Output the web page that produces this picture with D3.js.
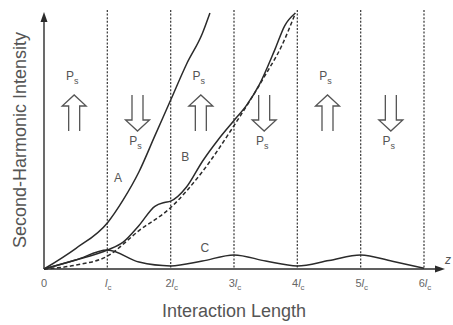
<!DOCTYPE html>
<html>
<head>
<meta charset="utf-8">
<script src="https://cdn.jsdelivr.net/npm/d3@7"></script>
<style>
  body { margin: 0; background: #fff; }
  svg { display: block; }
  text { font-family: "Liberation Sans", Arial, sans-serif; fill: #555; }
</style>
</head>
<body>
<script>
// positions along z, in units of the coherence length lc
const zA = [0, 0.5, 1, 1.25, 1.5, 1.75, 2, 2.25, 2.5, 2.62];
const iA = [0, 8, 18, 27, 38, 52, 66, 80, 92, 100];

const zB = [0, 0.5, 1, 1.25, 1.5, 1.75, 1.9, 2, 2.25, 2.5, 2.75, 3, 3.2, 3.4, 3.65, 3.8, 3.97];
const iB = [0, 3.5, 7.4, 10.5, 17, 24.5, 26, 26.5, 32, 42, 50.5, 58, 64, 72, 86, 95, 100];

// ideal quasi-phase-matched growth (dashed)
const zQ = [0, 0.5, 1, 1.5, 2, 2.5, 3, 3.5, 3.75, 3.97];
const iQ = [0, 1.5, 5, 15, 24, 38, 56, 76, 87, 100];

const zC = [0, 0.5, 1, 1.5, 2, 2.5, 3, 3.5, 4, 4.5, 5, 5.5, 6];
const iC = [0, 3.5, 7.4, 2.7, 1.2, 3.1, 5.5, 3.1, 1.2, 3.3, 5.5, 3, 0.3];

const tickMain = ["0", "l", "2l", "3l", "4l", "5l", "6l"];
const tickSub = ["", "c", "c", "c", "c", "c", "c"];
const domainDir = ["up", "down", "up", "down", "up", "down"];

(function() {
  const W = 453, H = 325;
  const svg = d3.select("body").append("svg").attr("width", W).attr("height", H);

  const x = d3.scaleLinear().domain([0, 6]).range([44, 424]);
  const y = d3.scaleLinear().domain([0, 100]).range([269, 13]);

  const ink = "#2b2b2b";

  // vertical dotted domain boundaries
  svg.selectAll(".bound")
    .data(d3.range(1, 7))
    .enter().append("line")
    .attr("x1", d => x(d)).attr("x2", d => x(d))
    .attr("y1", 10).attr("y2", y(0))
    .attr("stroke", "#444")
    .attr("stroke-width", 1.3)
    .attr("stroke-dasharray", "2,1.6");

  // axes
  svg.append("line")
    .attr("x1", x(0)).attr("x2", x(0))
    .attr("y1", y(0)).attr("y2", 20)
    .attr("stroke", ink).attr("stroke-width", 1.4);
  svg.append("path")
    .attr("d", `M${x(0)},12 L${x(0) - 3.5},22 L${x(0) + 3.5},22 Z`)
    .attr("fill", ink);

  svg.append("line")
    .attr("x1", x(0)).attr("x2", 436)
    .attr("y1", y(0)).attr("y2", y(0))
    .attr("stroke", ink).attr("stroke-width", 1.4);
  svg.append("path")
    .attr("d", `M445,${y(0)} L435,${y(0) - 3.5} L435,${y(0) + 3.5} Z`)
    .attr("fill", ink);

  svg.append("text")
    .attr("x", 445).attr("y", 264)
    .style("font-size", "12px").style("font-style", "italic")
    .text("z");

  // curves
  const line = d3.line()
    .x(d => x(d[0])).y(d => y(d[1]))
    .curve(d3.curveMonotoneX);

  function drawCurve(zs, is, dash) {
    svg.append("path")
      .datum(zs.map((z, i) => [z, is[i]]))
      .attr("d", line)
      .attr("fill", "none")
      .attr("stroke", ink)
      .attr("stroke-width", 1.5)
      .attr("stroke-dasharray", dash || null);
  }
  drawCurve(zQ, iQ, "4,2.5");
  drawCurve(zA, iA);
  drawCurve(zB, iB);
  drawCurve(zC, iC);

  // curve labels
  const curveLabels = [["A", 1.17, 182], ["B", 2.23, 161], ["C", 2.54, 252]];
  svg.selectAll(".clab")
    .data(curveLabels)
    .enter().append("text")
    .attr("x", d => x(d[1]))
    .attr("y", d => d[2])
    .attr("text-anchor", "middle")
    .style("font-size", "12px")
    .text(d => d[0]);

  // polarization arrows
  const aTop = 95, aBot = 131, hh = 11, hw = 12, sw = 5.5;
  domainDir.forEach((dir, i) => {
    const cx = x(i + 0.5) - 1.5;
    let p;
    if (dir === "up") {
      p = `M${cx - sw},${aBot} L${cx - sw},${aTop + hh} L${cx - hw},${aTop + hh} L${cx},${aTop} ` +
          `L${cx + hw},${aTop + hh} L${cx + sw},${aTop + hh} L${cx + sw},${aBot}`;
    } else {
      p = `M${cx - sw},${aTop} L${cx - sw},${aBot - hh} L${cx - hw},${aBot - hh} L${cx},${aBot} ` +
          `L${cx + hw},${aBot - hh} L${cx + sw},${aBot - hh} L${cx + sw},${aTop}`;
    }
    svg.append("path").attr("d", p)
      .attr("fill", "none").attr("stroke", "#555").attr("stroke-width", 1.3);

    const t = svg.append("text")
      .attr("x", cx - 2)
      .attr("y", dir === "up" ? 80 : 145)
      .attr("text-anchor", "middle")
      .style("font-size", "12px");
    t.append("tspan").text("P");
    t.append("tspan").attr("dy", 4).style("font-size", "9px").text("s");
  });

  // tick labels
  tickMain.forEach((m, i) => {
    const t = svg.append("text")
      .attr("x", x(i) + (i ? 1 : 0))
      .attr("y", 287)
      .attr("text-anchor", "middle")
      .style("font-size", "11px")
      .style("fill", "#666");
    if (m.indexOf("l") >= 0) {
      if (m.length > 1) t.append("tspan").text(m[0]);
      t.append("tspan").style("font-style", "italic").text("l");
      t.append("tspan").attr("dy", 3).style("font-size", "8px").text(tickSub[i]);
    } else {
      t.text(m);
    }
  });

  // axis titles
  svg.append("text")
    .attr("x", 234).attr("y", 317)
    .attr("text-anchor", "middle")
    .style("font-size", "18px")
    .text("Interaction Length");

  svg.append("text")
    .attr("transform", "translate(26,140) rotate(-90)")
    .attr("text-anchor", "middle")
    .style("font-size", "18px")
    .text("Second-Harmonic Intensity");
})();
</script>
</body>
</html>
